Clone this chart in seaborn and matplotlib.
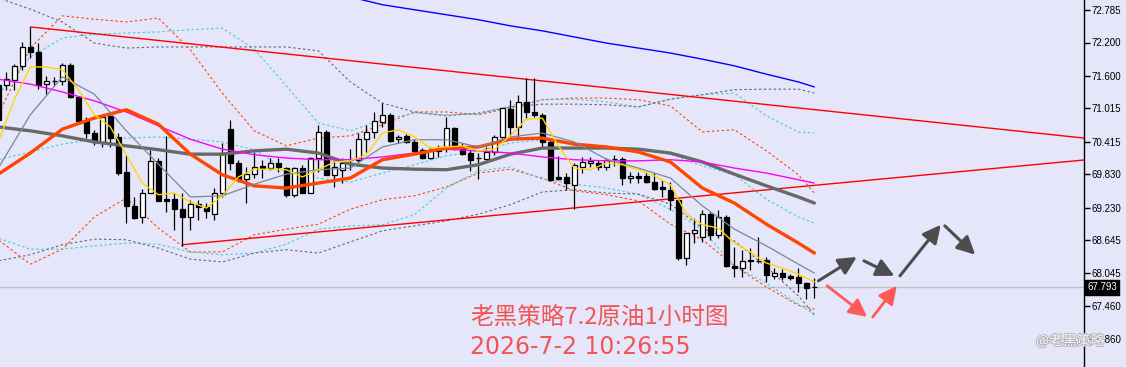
import numpy as np
import pandas as pd
import matplotlib
matplotlib.use("Agg")
import matplotlib.pyplot as plt
import matplotlib.transforms as mtrans
from matplotlib import patheffects as pe
import seaborn as sns

# ---------------- data ----------------
idx = list(range(-1, 102))
opens = [71.44, 71.44, 71.53, 71.78, 72.12, 72.03, 71.45, 71.51, 71.51, 71.80,
         71.22, 70.79, 70.57, 70.41, 70.88, 70.50, 69.87, 69.26, 69.06, 69.49,
         70.07, 69.38, 69.38, 69.20, 69.06, 69.29, 69.24, 69.11, 69.49, 70.64,
         70.03, 69.74, 69.83, 69.98, 69.94, 70.03, 69.94, 69.46, 69.94, 69.49,
         70.12, 70.59, 69.82, 69.91, 70.09, 70.09, 70.46, 70.59, 70.77, 70.90,
         70.46, 70.52, 70.41, 70.27, 70.12, 70.25, 70.30, 70.66, 70.32, 70.21,
         70.12, 70.10, 70.23, 70.50, 71.00, 70.68, 71.13, 70.95, 70.90, 70.41,
         69.78, 69.78, 69.64, 69.96, 70.03, 70.03, 69.96, 70.10, 70.10, 69.76,
         69.80, 69.80, 69.69, 69.60, 69.55, 69.37, 68.32, 68.77, 68.70, 69.11,
         68.74, 69.06, 68.18, 68.14, 68.29, 68.27, 68.29, 68.00, 68.05, 68.00,
         67.98, 67.87, 67.79]
highs = [71.53, 71.67, 71.81, 72.21, 72.48, 72.19, 71.60, 71.58, 71.83, 71.83,
         71.24, 70.86, 70.63, 70.90, 70.90, 70.57, 70.18, 69.42, 69.56, 70.27,
         70.12, 70.52, 69.49, 69.49, 69.37, 69.37, 69.31, 69.58, 70.39, 70.81,
         70.09, 69.96, 70.23, 70.09, 70.12, 70.12, 69.96, 69.96, 70.00, 70.14,
         70.72, 70.63, 70.09, 70.12, 70.28, 70.57, 70.72, 70.95, 71.11, 70.93,
         70.54, 70.55, 70.46, 70.30, 70.32, 70.36, 70.86, 70.68, 70.39, 70.27,
         70.21, 70.32, 70.54, 71.02, 71.17, 71.26, 71.56, 71.56, 70.93, 70.45,
         70.16, 69.85, 70.03, 70.14, 70.14, 70.09, 70.12, 70.18, 70.14, 69.87,
         69.87, 69.87, 69.85, 69.73, 69.69, 69.40, 68.77, 69.04, 69.19, 69.15,
         69.19, 69.10, 68.52, 68.47, 68.50, 68.70, 68.34, 68.14, 68.12, 68.03,
         68.14, 67.89, 67.96]
lows = [70.72, 71.35, 71.35, 71.71, 71.92, 71.36, 71.27, 71.44, 71.44, 71.20,
        70.79, 70.48, 70.36, 70.32, 70.32, 69.82, 68.95, 69.02, 68.95, 69.49,
        69.35, 69.15, 68.83, 68.54, 68.83, 69.01, 69.04, 69.01, 69.42, 69.91,
        69.69, 69.31, 69.76, 69.76, 69.91, 69.87, 69.42, 69.42, 69.49, 69.49,
        69.87, 69.82, 69.60, 69.67, 69.91, 70.05, 70.23, 70.48, 70.68, 70.41,
        70.39, 70.39, 70.21, 70.10, 70.10, 70.14, 70.23, 70.27, 70.18, 69.89,
        69.74, 70.09, 70.18, 70.48, 70.52, 70.50, 70.84, 70.86, 70.32, 69.71,
        69.73, 69.55, 69.20, 69.85, 69.96, 69.91, 69.91, 69.98, 69.64, 69.67,
        69.67, 69.67, 69.55, 69.42, 69.19, 68.29, 68.20, 68.59, 68.61, 68.65,
        68.68, 68.16, 67.98, 67.98, 68.11, 68.23, 67.89, 67.94, 67.93, 67.93,
        67.71, 67.58, 67.60]
closes = [70.81, 71.54, 71.78, 72.12, 72.03, 71.44, 71.51, 71.51, 71.80, 71.22,
          70.79, 70.57, 70.41, 70.86, 70.48, 69.85, 69.26, 69.04, 69.49, 70.07,
          69.35, 69.35, 69.20, 69.06, 69.29, 69.24, 69.17, 69.49, 70.19, 70.03,
          69.73, 69.83, 69.96, 69.94, 70.03, 69.96, 69.46, 69.94, 69.49, 70.12,
          70.59, 69.82, 69.96, 70.03, 70.09, 70.46, 70.59, 70.79, 70.90, 70.43,
          70.50, 70.41, 70.25, 70.12, 70.27, 70.30, 70.66, 70.30, 70.19, 70.09,
          70.12, 70.23, 70.50, 71.02, 70.68, 71.13, 70.95, 70.90, 70.41, 69.73,
          69.74, 69.67, 70.00, 70.05, 70.07, 69.96, 70.09, 70.10, 69.76, 69.80,
          69.76, 69.69, 69.56, 69.56, 69.37, 68.32, 68.77, 68.83, 69.11, 68.74,
          69.06, 68.18, 68.14, 68.27, 68.27, 68.27, 68.02, 68.05, 67.98, 67.96,
          67.87, 67.78, 67.79]

s2 = list(range(-1, 102, 2))
ma_yellow = [70.41, 71.17, 71.76, 71.76, 71.71, 71.35, 70.90, 70.68, 70.18, 69.67,
             69.46, 69.49, 69.33, 69.22, 69.44, 69.78, 69.92, 69.92, 69.91, 69.78,
             69.91, 70.05, 70.07, 70.18, 70.57, 70.63, 70.50, 70.30, 70.32, 70.34,
             70.25, 70.28, 70.52, 70.82, 70.84, 70.34, 69.94, 69.91, 70.03, 70.00,
             69.91, 69.80, 69.64, 69.11, 68.92, 68.86, 68.59, 68.43, 68.23, 68.14,
             68.03, 67.89]

s4 = list(range(-1, 100, 4)) + [101]
ma_thin_gray = [69.94, 70.90, 71.58, 71.27, 70.61, 70.01, 69.42, 69.44, 69.65, 69.83,
                69.91, 69.94, 70.32, 70.45, 70.45, 70.32, 70.50, 70.57, 70.41, 70.10,
                69.94, 69.76, 69.26, 68.84, 68.54, 68.21, 68.05]
ma_orange = [69.83, 70.21, 70.64, 70.84, 70.99, 70.73, 70.19, 69.82, 69.62, 69.58,
             69.67, 69.76, 70.09, 70.19, 70.30, 70.32, 70.46, 70.48, 70.37, 70.32,
             70.23, 70.05, 69.58, 69.31, 68.93, 68.59, 68.41]
ma_magenta = [71.54, 71.45, 71.31, 71.15, 70.95, 70.70, 70.46, 70.28, 70.18, 70.12,
              70.09, 70.09, 70.14, 70.21, 70.28, 70.25, 70.21, 70.14, 70.09, 70.07,
              70.07, 70.09, 70.05, 69.94, 69.85, 69.73, 69.67]
ma_thick_gray = [70.68, 70.61, 70.52, 70.41, 70.34, 70.27, 70.19, 70.19, 70.25, 70.28,
                 70.21, 70.01, 69.94, 69.92, 69.91, 70.00, 70.19, 70.30, 70.30, 70.30,
                 70.28, 70.21, 70.05, 69.83, 69.62, 69.42, 69.31]
band_orange_up = [70.90, 72.10, 72.68, 72.62, 72.57, 72.64, 72.07, 71.29, 70.61, 70.34,
                  70.48, 70.52, 70.72, 70.95, 70.95, 70.90, 71.02, 71.17, 71.20, 71.20,
                  71.17, 71.06, 70.59, 70.63, 70.25, 69.82, 69.49]
band_orange_dn = [68.65, 68.21, 68.48, 69.06, 69.40, 68.86, 68.43, 68.43, 68.74, 68.84,
                  68.93, 69.20, 69.37, 69.44, 69.60, 69.85, 69.92, 69.76, 69.53, 69.46,
                  69.35, 68.93, 68.65, 68.18, 67.80, 67.47, 67.40]
band_cyan_up = [71.26, 71.94, 72.28, 72.35, 72.37, 72.39, 72.43, 72.46, 72.08, 71.42,
                70.75, 70.61, 70.81, 70.93, 70.90, 70.91, 71.06, 71.17, 71.18, 71.13,
                71.04, 71.18, 71.26, 71.29, 70.88, 70.59, 70.57]
band_cyan_mid = [70.09, 70.23, 70.37, 70.46, 70.48, 70.50, 70.46, 70.41, 70.27, 69.91,
                 69.76, 69.69, 69.85, 70.00, 70.16, 70.25, 70.39, 70.45, 70.37, 70.32,
                 70.28, 70.19, 69.98, 69.82, 69.38, 69.06, 68.95]
band_cyan_dn = [68.68, 68.48, 68.48, 68.54, 68.59, 68.57, 68.43, 68.38, 68.41, 68.57,
                68.84, 68.90, 68.92, 69.10, 69.58, 69.89, 69.96, 69.74, 69.65, 69.58,
                69.47, 69.20, 68.83, 68.18, 67.87, 67.49, 67.30]
band_gray_up = [73.00, 72.80, 72.57, 72.19, 72.10, 72.12, 72.12, 72.12, 72.12, 72.12,
                72.05, 71.49, 71.11, 70.95, 70.88, 70.93, 71.04, 71.09, 71.09, 71.08,
                71.04, 71.18, 71.26, 71.35, 71.36, 71.36, 71.29]
band_gray_dn = [68.27, 68.38, 68.56, 68.66, 68.65, 68.50, 68.30, 68.25, 68.41, 68.47,
                68.41, 68.61, 68.81, 68.90, 68.99, 69.11, 69.28, 69.51, 69.55, 69.49,
                69.47, 69.29, 68.86, 68.63, 68.16, 67.64, 67.30]

blue_idx = list(range(43, 100, 4)) + [101]
ma_blue = [73.02, 72.88, 72.79, 72.70, 72.61, 72.50, 72.41, 72.30, 72.19, 72.10,
           72.01, 71.90, 71.78, 71.63, 71.49, 71.40]

# trend lines (anchor candle index, price) -> (right edge, price)
trend_upper_x = [3, 134.7]
trend_upper_y = [72.48, 70.48]
trend_lower_x = [22, 134.7]
trend_lower_y = [68.56, 70.085]

last_price = 67.793
ytick_values = [72.785, 72.200, 71.600, 71.015, 70.415, 69.830, 69.230,
                68.645, 68.045, 67.460, 66.860]

# projected path arrows (start idx, start price, end idx, end price)
gray_arrows = [(101.5, 67.91, 106.3, 68.34), (107.2, 68.27, 111.0, 68.00),
               (111.7, 68.00, 116.8, 68.92), (117.3, 68.90, 121.1, 68.38)]
red_arrows = [(102.6, 67.82, 107.6, 67.26), (108.3, 67.26, 111.3, 67.82)]

title_line1 = "老黑策略7.2原油1小时图"
title_line2 = "2026-7-2 10:26:55"
watermark = "@老黑策略"

# ---------------- style ----------------
sns.set_style("white")
plt.rcParams["font.family"] = ["Noto Sans CJK SC", "DejaVu Sans"]
BG = "#E6E6FA"

W, H = 1126, 367
fig = plt.figure(figsize=(W / 100, H / 100), dpi=100, facecolor=BG)
ax = fig.add_axes([0, 0, 1084 / W, 1])
ax.set_facecolor(BG)
ax.set_xlim(-0.79, 134.7)
ax.set_ylim(66.359, 72.965)

df = pd.DataFrame({"i": idx, "o": opens, "h": highs, "l": lows, "c": closes})
dash = (0, (2.2, 2.2))


def line(xs, ys, color, lw, ls="-", z=3):
    sns.lineplot(x=xs, y=ys, ax=ax, color=color, linewidth=lw, linestyle=ls,
                 zorder=z, estimator=None, sort=False, legend=False)


# current price line
ax.axhline(last_price, color="#C0C0C0", lw=1.0, zorder=1)

# bands
line(s4, band_orange_up, "#FF4500", 0.8, dash, 2)
line(s4, band_orange_dn, "#FF4500", 0.8, dash, 2)
line(s4, band_cyan_up, "#40D0D0", 0.8, dash, 2)
line(s4, band_cyan_mid, "#40D0D0", 0.8, dash, 2)
line(s4, band_cyan_dn, "#40D0D0", 0.8, dash, 2)
line(s4, band_gray_up, "#696969", 0.8, dash, 2)
line(s4, band_gray_dn, "#696969", 0.8, dash, 2)

# trend lines
line(trend_upper_x, trend_upper_y, "#FF0000", 1.0, "-", 2)
line(trend_lower_x, trend_lower_y, "#FF0000", 1.0, "-", 2)

# candles
up = df["c"] >= df["o"]
ax.vlines(df["i"], df["l"], df["h"], color="black", lw=0.9, zorder=4)
body_bottom = np.minimum(df["o"], df["c"])
body_h = np.maximum((df["c"] - df["o"]).abs(), 0.0001)
ax.bar(df["i"][up], body_h[up], bottom=body_bottom[up], width=0.62,
       facecolor="white", edgecolor="black", linewidth=0.9, zorder=5)
ax.bar(df["i"][~up], body_h[~up], bottom=body_bottom[~up], width=0.62,
       facecolor="black", edgecolor="black", linewidth=0.9, zorder=5)

# moving averages
line(s4, ma_thick_gray, "#696969", 2.4, "-", 6)
line(s4, ma_magenta, "#FF00FF", 1.0, "-", 6)
line(s4, ma_orange, "#FF4500", 2.4, "-", 6)
line(s4, ma_thin_gray, "#778899", 0.9, "-", 6)
line(s2, ma_yellow, "#FFD700", 1.0, "-", 7)
line(blue_idx, ma_blue, "#0000FF", 1.0, "-", 6)

# arrows
for x0, y0, x1, y1 in gray_arrows:
    ax.annotate("", xy=(x1, y1), xytext=(x0, y0),
                arrowprops=dict(arrowstyle="-|>,head_length=0.9,head_width=0.45",
                                color="#4D4D4D", lw=2.2, mutation_scale=12,
                                shrinkA=0, shrinkB=0), zorder=8)
for x0, y0, x1, y1 in red_arrows:
    ax.annotate("", xy=(x1, y1), xytext=(x0, y0),
                arrowprops=dict(arrowstyle="-|>,head_length=0.9,head_width=0.45",
                                color="#FF5A5A", lw=2.0, mutation_scale=12,
                                shrinkA=0, shrinkB=0), zorder=8)

# axes / ticks
for s in ["left", "top", "bottom"]:
    ax.spines[s].set_visible(False)
ax.spines["right"].set_color("black")
ax.spines["right"].set_linewidth(1.0)
ax.set_xticks([])
ax.yaxis.tick_right()
ax.set_yticks(ytick_values)
ax.set_yticklabels([f"{v:.3f}" for v in ytick_values], fontsize=7,
                   family="Liberation Sans", color="black")
ax.tick_params(axis="y", direction="out", length=4, width=1, pad=1.5, color="black")
ax.set_xlabel("")
ax.set_ylabel("")

trans = mtrans.blended_transform_factory(ax.transAxes, ax.transData)
ax.text(1.003, last_price, f"{last_price:.3f}", transform=trans, ha="left",
        va="center", fontsize=7, color="white", family="Liberation Sans",
        bbox=dict(boxstyle="square,pad=0.25", facecolor="black", edgecolor="black"),
        zorder=10, clip_on=False)

# annotation texts
fig.text(470 / W, 1 - 317 / H, title_line1, fontsize=17, color="#F05555",
         ha="left", va="center")
fig.text(470 / W, 1 - 347 / H, title_line2, fontsize=17, color="#F05555",
         ha="left", va="center", family=["DejaVu Sans"])
fig.text(1036 / W, 1 - 341 / H, watermark, fontsize=10, color="white",
         ha="left", va="center", alpha=0.95,
         path_effects=[pe.withStroke(linewidth=1.2, foreground="#A8A8B0")])

fig.savefig("out.png", dpi=100, facecolor=BG)
